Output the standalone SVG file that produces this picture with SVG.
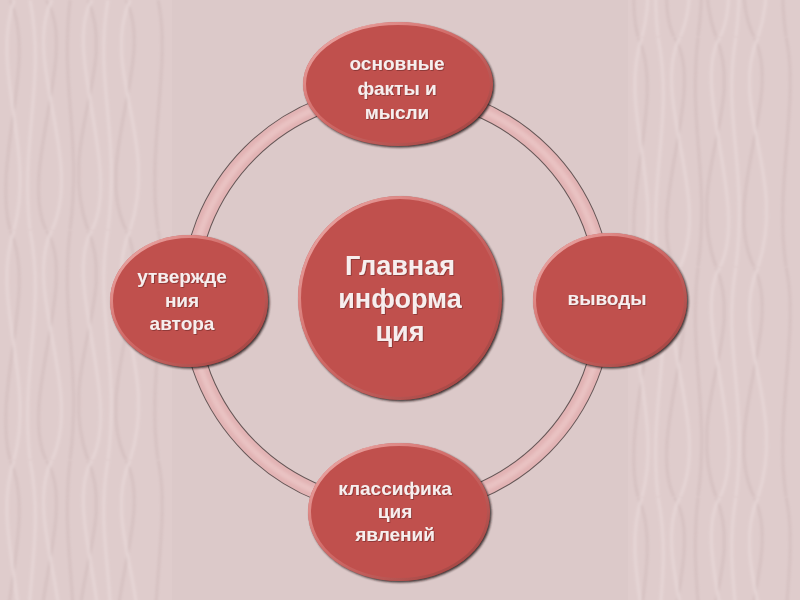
<svg xmlns="http://www.w3.org/2000/svg" width="800" height="600" viewBox="0 0 800 600">
  <defs>
    <style>
      .node { fill: #c0504d; }
      .shadow { fill: #241616; opacity: 0.85; filter: url(#soft); }
      .bevel { fill: none; stroke: url(#bevelGrad); stroke-width: 3; }
      .label { font-family: "Liberation Sans", Arial, "DejaVu Sans", sans-serif; font-weight: bold; fill: #f7eeee; text-anchor: middle; filter: url(#txtShadow); }
      .small { font-size: 19px; }
      .big { font-size: 27px; }
      .wl { fill: none; stroke: #f3e6e6; stroke-width: 2; }
      .wd { fill: none; stroke: #bba2a2; stroke-width: 1.3; }
    </style>
    <filter id="soft" x="-10%" y="-10%" width="120%" height="120%">
      <feGaussianBlur stdDeviation="1"/>
    </filter>
    <filter id="blur2" x="-10%" y="-10%" width="120%" height="120%">
      <feGaussianBlur stdDeviation="1.4"/>
    </filter>
    <filter id="txtShadow" x="-10%" y="-20%" width="120%" height="140%">
      <feDropShadow dx="0.8" dy="0.8" stdDeviation="0.6" flood-color="#5a1f1e" flood-opacity="0.6"/>
    </filter>
    <linearGradient id="bevelGrad" x1="0" y1="0" x2="1" y2="1">
      <stop offset="0" stop-color="#f6c3c1" stop-opacity="0.95"/>
      <stop offset="0.45" stop-color="#e58a87" stop-opacity="0.45"/>
      <stop offset="1" stop-color="#7a2a28" stop-opacity="0.6"/>
    </linearGradient>
    <pattern id="waves" x="0" y="0" width="172" height="230" patternUnits="userSpaceOnUse">
      <g filter="url(#blur2)">
        <path class="wd" d="M10,0 C38,60 -8,160 10,230"/>
        <path class="wl" d="M14,0 C-10,70 36,150 14,230"/>
        <path class="wd" d="M46,0 C80,50 18,170 46,230"/>
        <path class="wl" d="M52,0 C22,60 84,160 52,230"/>
        <path class="wd" d="M88,0 C118,70 56,140 88,230"/>
        <path class="wl" d="M92,0 C62,50 122,170 92,230"/>
        <path class="wd" d="M126,0 C156,60 92,160 126,230"/>
        <path class="wl" d="M130,0 C100,70 160,140 130,230"/>
        <path class="wd" d="M158,0 C172,60 146,150 158,230"/>
        <path class="wl" d="M30,0 C46,80 20,140 30,230"/>
        <path class="wl" d="M108,0 C94,80 120,130 108,230"/>
        <path class="wd" d="M70,0 C60,90 82,140 70,230"/>
      </g>
    </pattern>
  </defs>

  <!-- background -->
  <rect x="0" y="0" width="800" height="600" fill="#dcc9c9"/>
  <rect x="0" y="0" width="172" height="600" fill="#dfcccc"/>
  <rect x="0" y="0" width="172" height="600" fill="url(#waves)" opacity="0.55"/>
  <rect x="628" y="0" width="172" height="600" fill="#dfcccc"/>
  <g transform="translate(628,37)">
    <rect x="0" y="-37" width="172" height="600" fill="url(#waves)" opacity="0.55"/>
  </g>

  <!-- connectors: the ring -->
  <g id="connectors">
    <circle cx="397" cy="300" r="208" fill="none" stroke="#3e3030" stroke-width="16.5" opacity="0.75"/>
    <circle cx="397" cy="300" r="208" fill="none" stroke="#e2b3b4" stroke-width="14.5"/>
    <circle cx="397" cy="300" r="208" fill="none" stroke="#e9c2c2" stroke-width="6" filter="url(#blur2)"/>
  </g>

  <!-- nodes -->
  <g id="node-center">
    <circle class="shadow" cx="401.5" cy="299.5" r="102"/>
    <circle class="node" cx="400" cy="298" r="102"/>
    <circle class="bevel" cx="400" cy="298" r="100.5"/>
    <text class="label big" x="400" y="275">Главная</text>
    <text class="label big" x="400" y="308">информа</text>
    <text class="label big" x="400" y="341">ция</text>
  </g>

  <g id="node-top">
    <ellipse class="shadow" cx="399.5" cy="85.5" rx="95" ry="62"/>
    <ellipse class="node" cx="398" cy="84" rx="95" ry="62"/>
    <ellipse class="bevel" cx="398" cy="84" rx="93.5" ry="60.5"/>
    <text class="label small" x="397" y="70">основные</text>
    <text class="label small" x="397" y="95">факты и</text>
    <text class="label small" x="397" y="119">мысли</text>
  </g>

  <g id="node-right">
    <ellipse class="shadow" cx="611.5" cy="301.5" rx="77" ry="67"/>
    <ellipse class="node" cx="610" cy="300" rx="77" ry="67"/>
    <ellipse class="bevel" cx="610" cy="300" rx="75.5" ry="65.5"/>
    <text class="label small" x="607" y="305">выводы</text>
  </g>

  <g id="node-bottom">
    <ellipse class="shadow" cx="400.5" cy="513.5" rx="91" ry="69"/>
    <ellipse class="node" cx="399" cy="512" rx="91" ry="69"/>
    <ellipse class="bevel" cx="399" cy="512" rx="89.5" ry="67.5"/>
    <text class="label small" x="395" y="495">классифика</text>
    <text class="label small" x="395" y="518">ция</text>
    <text class="label small" x="395" y="541">явлений</text>
  </g>

  <g id="node-left">
    <ellipse class="shadow" cx="190.5" cy="302.5" rx="79" ry="66"/>
    <ellipse class="node" cx="189" cy="301" rx="79" ry="66"/>
    <ellipse class="bevel" cx="189" cy="301" rx="77.5" ry="64.5"/>
    <text class="label small" x="182" y="283">утвержде</text>
    <text class="label small" x="182" y="307">ния</text>
    <text class="label small" x="182" y="330">автора</text>
  </g>
</svg>
